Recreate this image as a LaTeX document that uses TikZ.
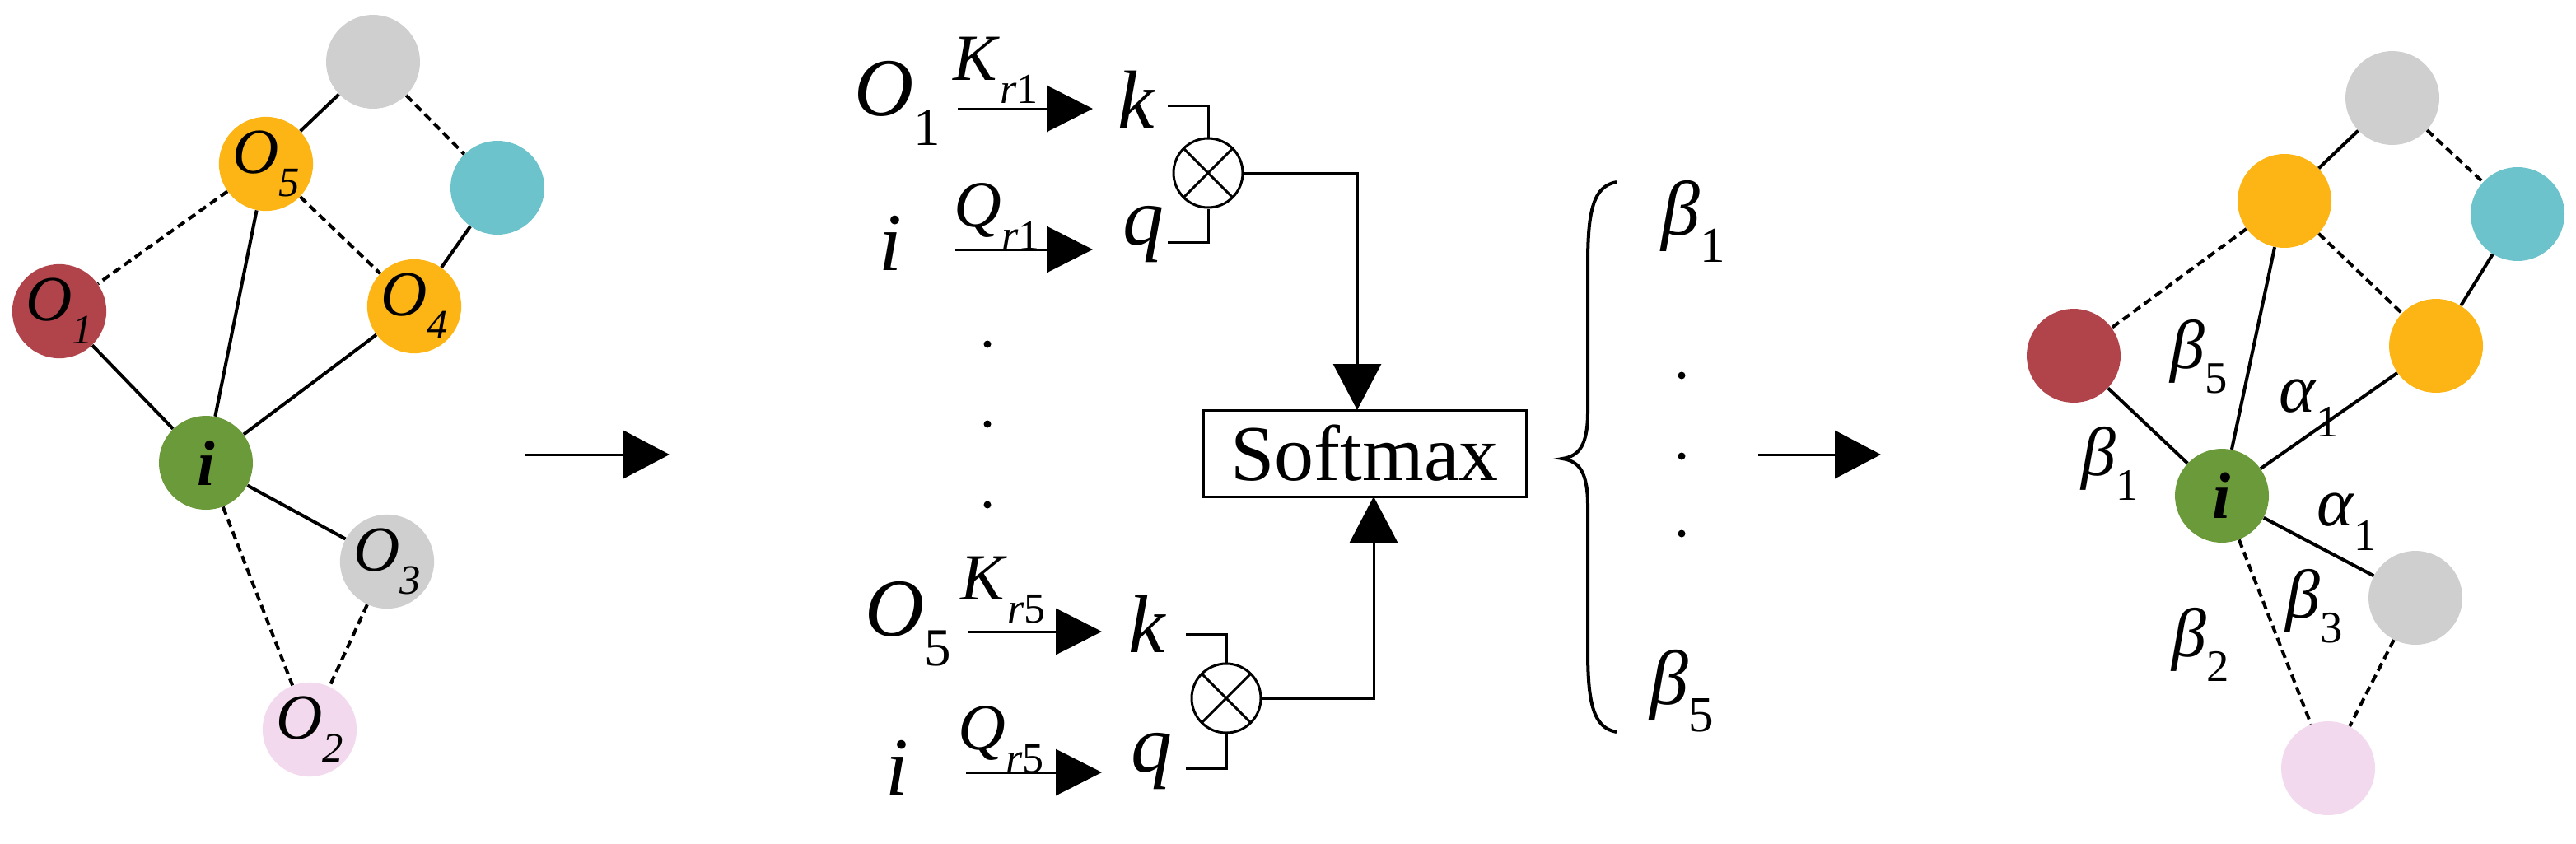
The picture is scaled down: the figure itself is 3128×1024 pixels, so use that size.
\documentclass[tikz,border=0pt]{standalone}
\usepackage{fontspec}
\setmainfont{Liberation Serif}
\usetikzlibrary{arrows.meta}
\newcommand\Sb[2]{#1\raisebox{-0.36em}{\scalebox{0.65}{#2}}}
\newcommand\Fs[1]{\fontsize{#1}{#1}\selectfont}
\definecolor{cred}{HTML}{B0444A}
\definecolor{corg}{HTML}{FDB515}
\definecolor{ccya}{HTML}{6CC3CB}
\definecolor{cgry}{HTML}{CFCFCF}
\definecolor{cgrn}{HTML}{6B9A3A}
\definecolor{cpnk}{HTML}{F3D9EE}
\begin{document}
\begin{tikzpicture}[x=0.5pt,y=-0.5pt,
  gn/.style={circle,minimum size=57pt,inner sep=0pt,fill=#1,font=\Fs{39}\itshape},
  ge/.style={line width=2pt},
  gd/.style={line width=2pt,dash pattern=on 5pt off 3pt},
  ln/.style={line width=1.5pt},
  arr/.style={line width=1.5pt,-{Triangle[length=28pt,width=28pt]}},
  bigarr/.style={line width=1.5pt,-{Triangle[length=28pt,width=29pt]}},
  ot/.style={circle,draw,line width=1.5pt,minimum size=42pt,inner sep=0pt,
    path picture={\draw[line width=1.5pt] (path picture bounding box.north west)--(path picture bounding box.south east)
      (path picture bounding box.south west)--(path picture bounding box.north east);}},
  mt/.style={anchor=base west,inner sep=0pt,font=\Fs{#1}},
  dot/.style={circle,fill,inner sep=0pt,minimum size=4.5pt}]
\useasboundingbox (0,0) rectangle (3128,1024);
% ---------- left graph ----------
\node[gn=cgry] (L6) at (453,75) {};
\node[gn=corg] (L5) at (323,199) {\Sb{O}{5}};
\node[gn=ccya] (L7) at (604,228) {};
\node[gn=cred] (L1) at (72,378) {\Sb{O}{1}};
\node[gn=corg] (L4) at (503,372) {\Sb{O}{4}};
\node[gn=cgrn] (Li) at (250,562) {\textbf{i}};
\node[gn=cgry] (L3) at (470,682) {\Sb{O}{3}};
\node[gn=cpnk] (L2) at (376,886) {\Sb{O}{2}};
\draw[ge] (L6)--(L5) (L5)--(Li) (L7)--(L4) (L1)--(Li) (L4)--(Li) (Li)--(L3);
\draw[gd] (L6)--(L7) (L5)--(L1) (L5)--(L4) (Li)--(L2) (L3)--(L2);
% arrow 1
\coordinate (a1s) at (637,552); \coordinate (a1e) at (813,552);
\draw[bigarr] (a1s)--(a1e);
% ---------- middle ----------
\node[mt=50] (tO1) at (1037,140) {\Sb{\textit{O}}{1}};
\node[mt=40] (tK1) at (1157,97) {\Sb{\textit{K}}{\textit{r}1}};
\node[mt=50] (tk1) at (1357,155) {\textit{k}};
\node[mt=50] (ti1) at (1067,328) {\textit{i}};
\node[mt=40] (tQ1) at (1158,275) {\Sb{\textit{Q}}{\textit{r}1}};
\node[mt=50] (tq1) at (1363,297) {\textit{q}};
\coordinate (k1a) at (1163,132); \coordinate (k1b) at (1327,132);
\coordinate (q1a) at (1160,303); \coordinate (q1b) at (1327,303);
\draw[arr] (k1a)--(k1b); \draw[arr] (q1a)--(q1b);
\node[ot] (X1) at (1467,210) {};
\draw[ln] (1418,128)-|(X1.north);
\draw[ln] (1418,294)-|(X1.south);
\node[dot] (d1) at (1199,418) {};
\node[dot] (d2) at (1199,515) {};
\node[dot] (d3) at (1199,613) {};
\node[mt=50] (tO5) at (1050,772) {\Sb{\textit{O}}{5}};
\node[mt=40] (tK5) at (1166,728) {\Sb{\textit{K}}{\textit{r}5}};
\node[mt=50] (tk5) at (1370,792) {\textit{k}};
\node[mt=50] (ti5) at (1075,965) {\textit{i}};
\node[mt=40] (tQ5) at (1163,910) {\Sb{\textit{Q}}{\textit{r}5}};
\node[mt=50] (tq5) at (1373,937) {\textit{q}};
\coordinate (k5a) at (1175,767); \coordinate (k5b) at (1338,767);
\coordinate (q5a) at (1173,938); \coordinate (q5b) at (1338,938);
\draw[arr] (k5a)--(k5b); \draw[arr] (q5a)--(q5b);
\node[ot] (X5) at (1489,848) {};
\draw[ln] (1440,770)-|(X5.north);
\draw[ln] (1440,933)-|(X5.south);
\node[draw,line width=1.5pt,minimum width=196pt,minimum height=52.5pt,inner sep=0pt,font=\Fs{48}] (SM) at (1657,550.5) {Softmax};
\draw[bigarr] (X1.east)-|(1648,498);
\draw[bigarr] (X5.east)-|(1668,603);
% brace
\draw[line width=2pt] (1963,221) .. controls (1935,226) and (1928,255) .. (1928,320) -- (1928,500)
  .. controls (1928,540) and (1918,554) .. (1897,557)
  .. controls (1918,560) and (1928,574) .. (1928,614) -- (1928,790)
  .. controls (1928,855) and (1935,884) .. (1963,889);
\node[mt=47] (b1) at (2017,285) {\Sb{\textit{β}}{1}};
\node[dot] (e1) at (2042,456) {};
\node[dot] (e2) at (2042,554) {};
\node[dot] (e3) at (2042,648) {};
\node[mt=47] (b5) at (2003,855) {\Sb{\textit{β}}{5}};
% arrow 2
\coordinate (a2s) at (2135,552); \coordinate (a2e) at (2284,552);
\draw[bigarr] (a2s)--(a2e);
% ---------- right graph ----------
\node[gn=cgry] (R6) at (2905,119) {};
\node[gn=corg] (R5) at (2774,244) {};
\node[gn=ccya] (R7) at (3057,260) {};
\node[gn=cred] (R1) at (2518,432) {};
\node[gn=corg] (R4) at (2958,420) {};
\node[gn=cgrn,font=\Fs{40}\itshape] (Ri) at (2698,602) {\textbf{i}};
\node[gn=cgry] (R3) at (2933,726) {};
\node[gn=cpnk] (R2) at (2827,933) {};
\draw[ge] (R6)--(R5) (R5)--(Ri) (R7)--(R4) (R1)--(Ri) (R4)--(Ri) (Ri)--(R3);
\draw[gd] (R6)--(R7) (R5)--(R1) (R5)--(R4) (Ri)--(R2) (R3)--(R2);
\node[mt=42] at (2635,447) {\Sb{\textit{β}}{5}};
\node[mt=42] at (2527,577) {\Sb{\textit{β}}{1}};
\node[mt=42] at (2767,500) {\Sb{\textit{α}}{1}};
\node[mt=42] at (2813,638) {\Sb{\textit{α}}{1}};
\node[mt=42] at (2775,750) {\Sb{\textit{β}}{3}};
\node[mt=42] at (2637,797) {\Sb{\textit{β}}{2}};
\end{tikzpicture}
\end{document}
